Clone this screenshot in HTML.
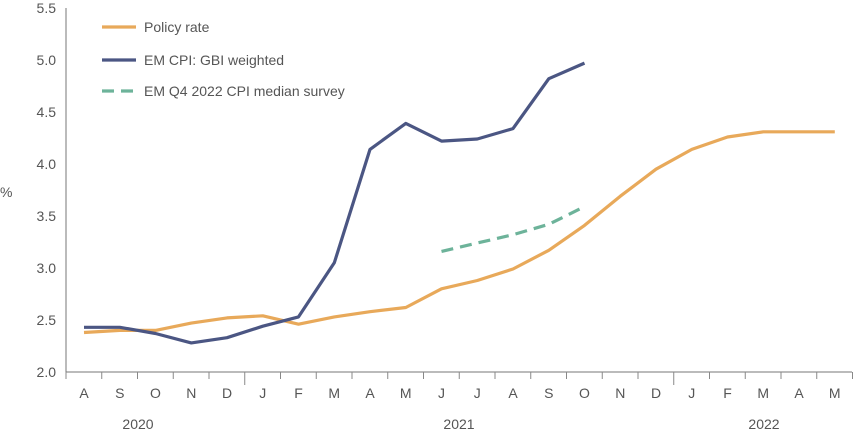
<!DOCTYPE html>
<html><head><meta charset="utf-8"><style>
body{margin:0;background:#fff}
svg{display:block}
text{font-family:"Liberation Sans",sans-serif;fill:#555;font-size:14px}
</style></head><body>
<svg id="c" width="855" height="434" viewBox="0 0 855 434">
<line x1="66" y1="8" x2="66" y2="372" stroke="#777" stroke-width="1"/>
<line x1="66" y1="372" x2="852" y2="372" stroke="#777" stroke-width="1"/>
<g text-anchor="end">
<text x="56" y="13">5.5</text><text x="56" y="65">5.0</text><text x="56" y="117">4.5</text><text x="56" y="169">4.0</text><text x="56" y="221">3.5</text><text x="56" y="273">3.0</text><text x="56" y="325">2.5</text><text x="56" y="377">2.0</text>
</g>
<text x="0" y="197">%</text>
<g id="ticks"></g>
<g id="lbl" text-anchor="middle"></g>
<g text-anchor="middle"><text x="138" y="429">2020</text><text x="459" y="429">2021</text><text x="764" y="429">2022</text></g>
<polyline id="po" fill="none" stroke="#E8A95A" stroke-width="3.2" stroke-linejoin="round"/>
<polyline id="bl" fill="none" stroke="#4B5683" stroke-width="3.2" stroke-linejoin="round"/>
<polyline id="gr" fill="none" stroke="#6DB39A" stroke-width="3.2" stroke-dasharray="12,7"/>
<line x1="102" y1="27" x2="136" y2="27" stroke="#E8A95A" stroke-width="3.2"/>
<text x="144" y="32">Policy rate</text>
<line x1="102" y1="60" x2="136" y2="60" stroke="#4B5683" stroke-width="3.2"/>
<text x="144" y="65">EM CPI: GBI weighted</text>
<line x1="102" y1="91" x2="136" y2="91" stroke="#6DB39A" stroke-width="3.2" stroke-dasharray="12,7"/>
<text x="144" y="96">EM Q4 2022 CPI median survey</text>
</svg>
<script>
var ns="http://www.w3.org/2000/svg",step=35.75,x0=84;
var m="ASONDJFMAMJJASONDJFMAM";
var t=document.getElementById("ticks"),l=document.getElementById("lbl");
for(var i=0;i<=22;i++){var x=66+i*step;var big=(i==5||i==17);var e=document.createElementNS(ns,"line");e.setAttribute("x1",x);e.setAttribute("x2",x);e.setAttribute("y1",372);e.setAttribute("y2",big?385:379);e.setAttribute("stroke","#888");t.appendChild(e);}
for(var i=0;i<22;i++){var e=document.createElementNS(ns,"text");e.setAttribute("x",x0+i*step);e.setAttribute("y",398);e.textContent=m[i];l.appendChild(e);}
function pts(a,s){return a.map(function(v,i){return (x0+(i+s)*step).toFixed(1)+","+(372-(v-2)*104).toFixed(1)}).join(" ")}
document.getElementById("po").setAttribute("points",pts([2.38,2.40,2.40,2.47,2.52,2.54,2.46,2.53,2.58,2.62,2.80,2.88,2.99,3.17,3.41,3.69,3.95,4.14,4.26,4.31,4.31,4.31],0));
document.getElementById("bl").setAttribute("points",pts([2.43,2.43,2.37,2.28,2.33,2.44,2.53,3.05,4.14,4.39,4.22,4.24,4.34,4.82,4.97],0));
document.getElementById("gr").setAttribute("points",pts([3.16,3.24,3.32,3.42,3.59],10));
</script>
</body></html>
